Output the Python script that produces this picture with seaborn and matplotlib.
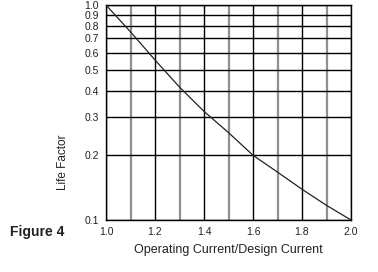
import matplotlib
matplotlib.use("Agg")
import matplotlib.pyplot as plt
import seaborn as sns
import pandas as pd
from matplotlib.ticker import FixedLocator, NullLocator

ratio = [1.0, 1.1, 1.2, 1.3, 1.4, 1.5, 1.6, 1.7, 1.8, 1.9, 2.0]
life = [1.0, 0.75, 0.555, 0.415, 0.32, 0.255, 0.2, 0.167, 0.139, 0.117, 0.1]
yticks = [0.1, 0.2, 0.3, 0.4, 0.5, 0.6, 0.7, 0.8, 0.9, 1.0]
xmajor = [1.0, 1.2, 1.4, 1.6, 1.8, 2.0]
xminor = [1.1, 1.3, 1.5, 1.7, 1.9]

sns.set_style("white")
plt.rcParams['font.family'] = ['Liberation Sans', 'DejaVu Sans']

df = pd.DataFrame({"ratio": ratio, "life": life})
fig = plt.figure(figsize=(3.78, 2.72), dpi=100)
ax = fig.add_axes([106/378, 1-220/272, 245/378, 215/272])
ax.set_yscale("log")
ax.set_xlim(1.0, 2.0)
ax.set_ylim(0.1, 1.0)

for xv in xminor:
    ax.axvline(xv, color="#909090", lw=1.6, zorder=1)
for xv in xmajor:
    ax.axvline(xv, color="black", lw=1.0, zorder=1)
for yv in yticks:
    ax.axhline(yv, color="black", lw=1.0, zorder=1)

sns.lineplot(data=df, x="ratio", y="life", ax=ax, color="#222222", lw=0.9, zorder=3)

ax.yaxis.set_major_locator(FixedLocator(yticks))
ax.yaxis.set_minor_locator(NullLocator())
ax.set_yticklabels([f"{v:.1f}" for v in yticks])
ax.set_xticks(xmajor)
ax.set_xticklabels([f"{v:.1f}" for v in xmajor])
ax.tick_params(axis="both", length=0, labelsize=7.5, pad=5, colors="#222222")
for s in ax.spines.values():
    s.set_color("black")
    s.set_linewidth(1.0)

ax.set_xlabel("Operating Current/Design Current", fontsize=9, labelpad=5, color="#222222")
ax.set_ylabel("")
fig.text(63/378, 1-162/272, "Life Factor", rotation=90, ha="center", va="center", fontsize=8.5, color="#222222")
fig.text(10/378, 1-232/272, "Figure 4", ha="left", va="center", fontsize=10, fontweight="bold", color="#222222")

fig.savefig("out.png", dpi=100)
